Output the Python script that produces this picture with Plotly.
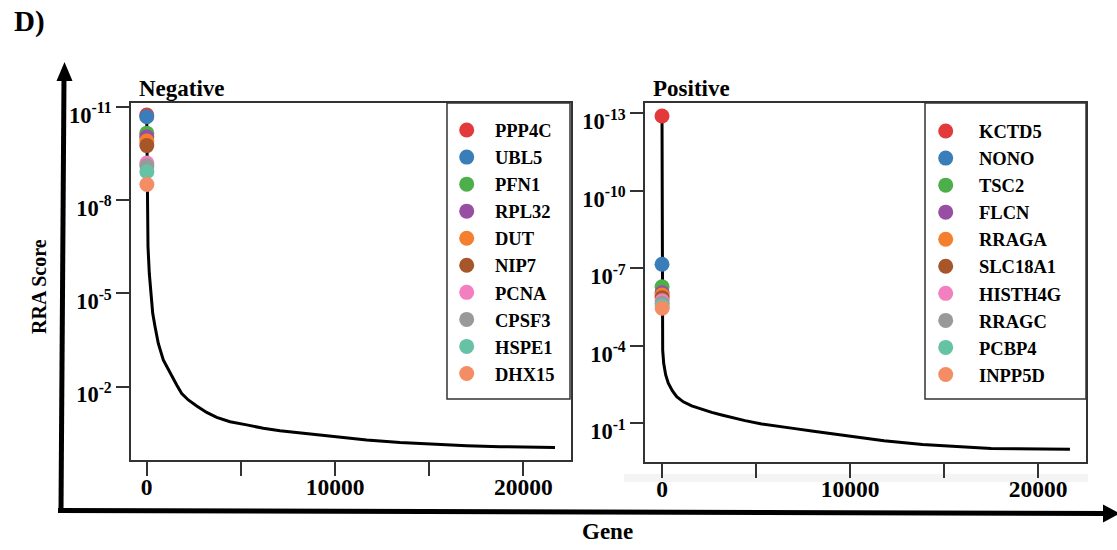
import plotly.graph_objects as go

W, H = 1117, 550
FONT = "Liberation Serif"

# ---------------- data ----------------
neg_genes = ["PPP4C", "UBL5", "PFN1", "RPL32", "DUT", "NIP7", "PCNA", "CPSF3", "HSPE1", "DHX15"]
neg_gene_rank = [1, 2, 3, 4, 5, 6, 7, 8, 9, 10]
neg_gene_score = [1.86e-11, 2.09e-11, 7.08e-11, 9.33e-11, 1.26e-10, 1.78e-10,
                  6.46e-10, 7.94e-10, 1.23e-9, 3.16e-9]
neg_curve_rank = [32, 69, 138, 212, 319, 441, 616, 881, 1237, 1593, 1859, 2209, 2655,
                  3186, 3717, 4423, 5310, 6191, 7078, 7965, 9733, 11683, 13452, 15220,
                  16994, 18763, 21684]
neg_curve_score = [2.7e-8, 3.2e-7, 2.3e-6, 1.0e-5, 4.4e-5, 1.17e-4, 4.1e-4, 1.38e-3,
                   3.7e-3, 8.9e-3, 0.0166, 0.0269, 0.0417, 0.0676, 0.0977, 0.135, 0.170,
                   0.219, 0.263, 0.302, 0.389, 0.525, 0.631, 0.724, 0.794, 0.851, 0.912]

pos_genes = ["KCTD5", "NONO", "TSC2", "FLCN", "RRAGA", "SLC18A1", "HISTH4G", "RRAGC", "PCBP4", "INPP5D"]
pos_gene_rank = [1, 2, 3, 4, 5, 6, 7, 8, 9, 10]
pos_gene_score = [1.26e-13, 6.9e-8, 5.1e-7, 8.7e-7, 1.07e-6, 1.35e-6,
                  1.78e-6, 2.24e-6, 2.82e-6, 3.47e-6]
pos_curve_rank = [11, 37, 90, 197, 335, 548, 782, 1133, 1580, 2112, 2644, 3176, 3883,
                  4415, 5303, 6186, 7074, 7963, 8846, 9734, 11808, 13856, 17500, 21700]
pos_curve_score = [3.2e-5, 1.45e-4, 4.7e-4, 1.32e-3, 2.75e-3, 5.4e-3, 9.1e-3, 0.0145,
                   0.0209, 0.0282, 0.0372, 0.0468, 0.0631, 0.0776, 0.105, 0.132, 0.158,
                   0.195, 0.240, 0.295, 0.468, 0.646, 0.933, 0.995]

gene_colors = ["#E4393B", "#3A7EB9", "#4DAF4A", "#984EA3", "#F4802F",
               "#A65628", "#F27FBE", "#999999", "#66C2A5", "#F58D64"]

x_tickvals = [0, 5000, 10000, 15000, 20000]
x_ticktext = ["0", "", "10000", "", "20000"]
neg_y_exps = [-11, -8, -5, -2]
pos_y_exps = [-13, -10, -7, -4, -1]


def px(x):
    return x / W


def py(y):
    return 1 - y / H


fig = go.Figure()

# curves
fig.add_trace(go.Scatter(x=neg_gene_rank + neg_curve_rank,
                         y=neg_gene_score + neg_curve_score,
                         mode="lines", line=dict(color="black", width=3),
                         showlegend=False, xaxis="x", yaxis="y", hoverinfo="skip"))
fig.add_trace(go.Scatter(x=pos_gene_rank + pos_curve_rank,
                         y=pos_gene_score + pos_curve_score,
                         mode="lines", line=dict(color="black", width=3),
                         showlegend=False, xaxis="x2", yaxis="y2", hoverinfo="skip"))

for i, g in enumerate(neg_genes):
    fig.add_trace(go.Scatter(x=[neg_gene_rank[i]], y=[neg_gene_score[i]], name=g,
                             mode="markers",
                             marker=dict(color=gene_colors[i], size=15, line=dict(width=0)),
                             xaxis="x", yaxis="y", legend="legend"))
for i, g in enumerate(pos_genes):
    fig.add_trace(go.Scatter(x=[pos_gene_rank[i]], y=[pos_gene_score[i]], name=g,
                             mode="markers",
                             marker=dict(color=gene_colors[i], size=15, line=dict(width=0)),
                             xaxis="x2", yaxis="y2", legend="legend2"))

axcol = "#333333"
xcommon = dict(showgrid=False, zeroline=False, showline=True, mirror=True,
               linecolor=axcol, linewidth=1.5, ticks="outside", ticklen=14,
               tickwidth=1.5, tickcolor=axcol, tickvals=x_tickvals, ticktext=x_ticktext,
               tickfont=dict(family=FONT, size=23.5, color="black", weight="bold"),
               ticklabelstandoff=-9, automargin=False)
ycommon = dict(type="log", showgrid=False, zeroline=False, showline=True, mirror=True,
               linecolor=axcol, linewidth=1.5, ticks="outside", ticklen=13,
               tickwidth=1.5, tickcolor=axcol,
               tickfont=dict(family=FONT, size=22.5, color="black", weight="bold"),
               automargin=False, ticklabelshift=-8)

fig.update_layout(
    width=W, height=H, margin=dict(l=0, r=0, t=0, b=0),
    paper_bgcolor="white", plot_bgcolor="white",
    xaxis=dict(domain=[px(131), px(571)], range=[-834, 22533], anchor="y", **xcommon),
    yaxis=dict(domain=[py(460), py(103)], range=[0.36, -11.12], anchor="x",
               tickvals=[10 ** e for e in neg_y_exps],
               ticktext=["10<sup>%d</sup>" % e for e in neg_y_exps], **ycommon),
    xaxis2=dict(domain=[px(645), px(1086)], range=[-904, 22553], anchor="y2", **xcommon),
    yaxis2=dict(domain=[py(462), py(103)], range=[0.49, -13.40], anchor="x2",
                tickvals=[10 ** e for e in pos_y_exps],
                ticktext=["10<sup>%d</sup>" % e for e in pos_y_exps], **ycommon),
    legend=dict(x=px(438.4), y=py(111.5), xanchor="left", yanchor="top",
                bgcolor="rgba(0,0,0,0)", borderwidth=0, itemwidth=46.6,
                font=dict(family=FONT, size=18.5, color="black", weight="bold")),
    legend2=dict(x=px(912.4), y=py(112.5), xanchor="left", yanchor="top",
                 bgcolor="rgba(0,0,0,0)", borderwidth=0, itemwidth=56.6,
                 font=dict(family=FONT, size=18.5, color="black", weight="bold")),
)

shapes = []
# legend boxes
for (x0, x1) in [(447, 570), (925, 1086)]:
    shapes.append(dict(type="rect", xref="paper", yref="paper",
                       x0=px(x0), x1=px(x1), y0=py(399), y1=py(103),
                       line=dict(color=axcol, width=1.5)))
# faint band under right panel
shapes.append(dict(type="rect", xref="paper", yref="paper", layer="below",
                   x0=px(624), x1=px(1088), y0=py(482), y1=py(474),
                   line=dict(width=0), fillcolor="#f4f4f4"))
# big axis arrows
shapes.append(dict(type="line", xref="paper", yref="paper",
                   x0=px(61), y0=py(512), x1=px(64), y1=py(78),
                   line=dict(color="black", width=5)))
shapes.append(dict(type="path", xref="paper", yref="paper",
                   path="M %f,%f L %f,%f L %f,%f Z" % (px(56.5), py(81), px(64.5), py(62),
                                                       px(72.5), py(81)),
                   fillcolor="black", line=dict(width=0)))
shapes.append(dict(type="line", xref="paper", yref="paper",
                   x0=px(58), y0=py(510.5), x1=px(1106), y1=py(513.5),
                   line=dict(color="black", width=5)))
shapes.append(dict(type="path", xref="paper", yref="paper",
                   path="M %f,%f L %f,%f L %f,%f Z" % (px(1103), py(504.5), px(1120), py(513.5),
                                                       px(1103), py(522.5)),
                   fillcolor="black", line=dict(width=0)))
fig.update_layout(shapes=shapes)

bold = dict(family=FONT, color="black", weight="bold")
ann = [
    dict(text="D)", x=px(12), y=py(21), xanchor="left", yanchor="middle",
         font=dict(size=29, **bold)),
    dict(text="Negative", x=px(137), y=py(88), xanchor="left", yanchor="middle",
         font=dict(size=23, **bold)),
    dict(text="Positive", x=px(651), y=py(88), xanchor="left", yanchor="middle",
         font=dict(size=23, **bold)),
    dict(text="RRA Score", x=px(39), y=py(287), xanchor="center", yanchor="middle",
         textangle=-90, font=dict(size=20, **bold)),
    dict(text="Gene", x=px(607), y=py(531), xanchor="center", yanchor="middle",
         font=dict(size=23, **bold)),
    dict(text="2", x=px(985), y=py(4), xanchor="center", yanchor="bottom",
         font=dict(size=12, **bold)),
]
for a in ann:
    a.update(xref="paper", yref="paper", showarrow=False)
fig.update_layout(annotations=ann)

fig.write_html("out.html")
